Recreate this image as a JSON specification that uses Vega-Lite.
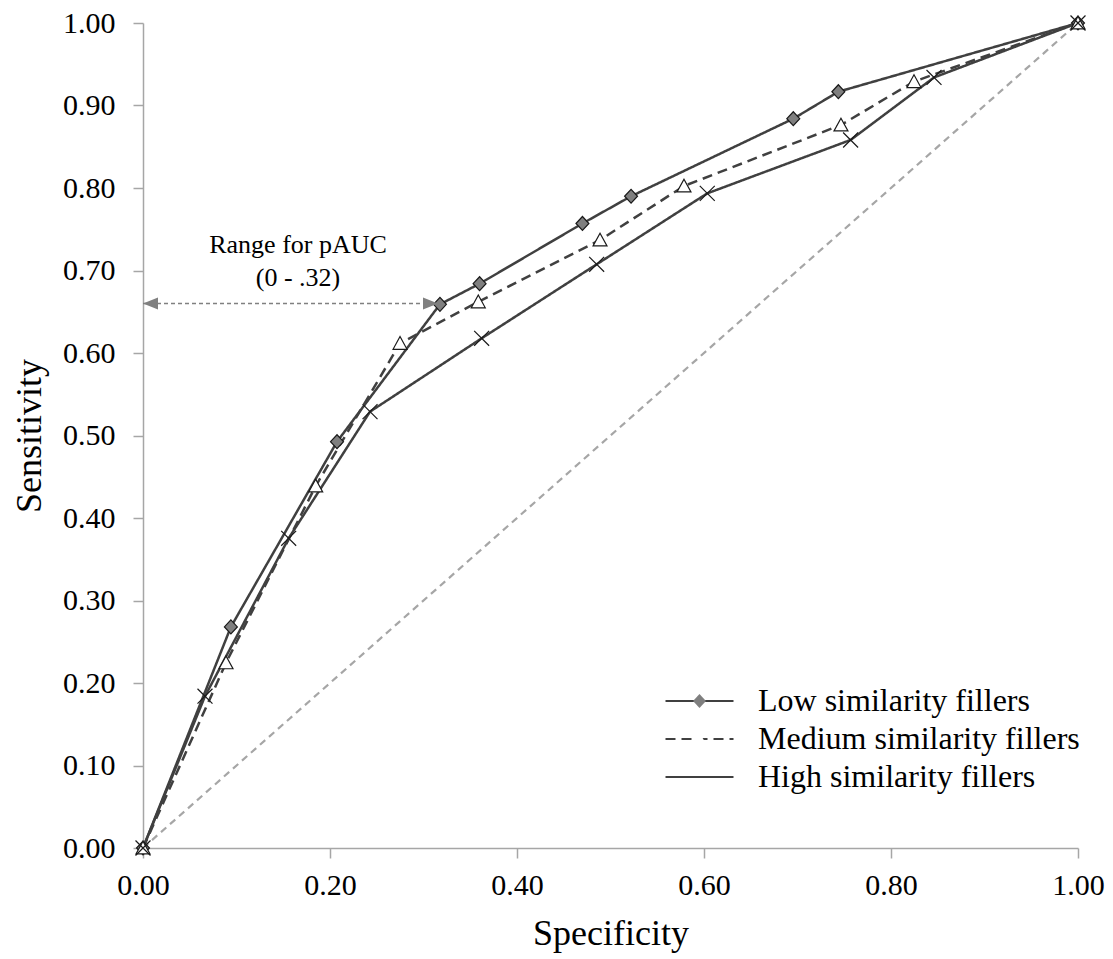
{
  "$schema": "https://vega.github.io/schema/vega-lite/v6.json",
  "width": 935,
  "height": 825,
  "autosize": {"type": "none"},
  "padding": {"left": 143, "top": 23, "right": 35, "bottom": 111},
  "background": "white",
  "config": {
    "view": {"stroke": null},
    "font": "Liberation Serif",
    "axis": {
      "grid": false,
      "domainColor": "#a6a6a6",
      "tickColor": "#a6a6a6",
      "domainWidth": 1.5,
      "tickWidth": 1.5,
      "tickSize": 10,
      "labelFlush": false,
      "labelFont": "Liberation Serif",
      "labelFontSize": 30,
      "labelColor": "black",
      "titleFont": "Liberation Serif",
      "titleFontSize": 36,
      "titleFontWeight": "normal",
      "titleColor": "black"
    },
    "legend": {
      "orient": "none",
      "legendX": 522.5,
      "legendY": 660,
      "padding": 0,
      "symbolSize": 1156,
      "symbolOffset": 16,
      "labelFont": "Liberation Serif",
      "labelFontSize": 32,
      "labelColor": "black",
      "labelLimit": 600,
      "rowPadding": 4
    }
  },
  "datasets": {
    "roc": [
      {"series": "Low similarity fillers", "specificity": 0.0, "sensitivity": 0.0},
      {"series": "Low similarity fillers", "specificity": 0.094, "sensitivity": 0.268},
      {"series": "Low similarity fillers", "specificity": 0.2075, "sensitivity": 0.4925},
      {"series": "Low similarity fillers", "specificity": 0.3176, "sensitivity": 0.659},
      {"series": "Low similarity fillers", "specificity": 0.360, "sensitivity": 0.684},
      {"series": "Low similarity fillers", "specificity": 0.470, "sensitivity": 0.757},
      {"series": "Low similarity fillers", "specificity": 0.522, "sensitivity": 0.790},
      {"series": "Low similarity fillers", "specificity": 0.6955, "sensitivity": 0.884},
      {"series": "Low similarity fillers", "specificity": 0.7437, "sensitivity": 0.9167},
      {"series": "Low similarity fillers", "specificity": 1.0, "sensitivity": 1.0},
      {"series": "Medium similarity fillers", "specificity": 0.0, "sensitivity": 0.0},
      {"series": "Medium similarity fillers", "specificity": 0.0888, "sensitivity": 0.2245},
      {"series": "Medium similarity fillers", "specificity": 0.1847, "sensitivity": 0.4388},
      {"series": "Medium similarity fillers", "specificity": 0.2749, "sensitivity": 0.6117},
      {"series": "Medium similarity fillers", "specificity": 0.3586, "sensitivity": 0.662},
      {"series": "Medium similarity fillers", "specificity": 0.4888, "sensitivity": 0.737},
      {"series": "Medium similarity fillers", "specificity": 0.5786, "sensitivity": 0.8024},
      {"series": "Medium similarity fillers", "specificity": 0.7465, "sensitivity": 0.8764},
      {"series": "Medium similarity fillers", "specificity": 0.8246, "sensitivity": 0.929},
      {"series": "Medium similarity fillers", "specificity": 1.0, "sensitivity": 1.0},
      {"series": "High similarity fillers", "specificity": 0.0, "sensitivity": 0.0},
      {"series": "High similarity fillers", "specificity": 0.0663, "sensitivity": 0.184},
      {"series": "High similarity fillers", "specificity": 0.1558, "sensitivity": 0.3754},
      {"series": "High similarity fillers", "specificity": 0.2428, "sensitivity": 0.5289},
      {"series": "High similarity fillers", "specificity": 0.3622, "sensitivity": 0.6178},
      {"series": "High similarity fillers", "specificity": 0.4852, "sensitivity": 0.7075},
      {"series": "High similarity fillers", "specificity": 0.6035, "sensitivity": 0.7935},
      {"series": "High similarity fillers", "specificity": 0.7568, "sensitivity": 0.8582},
      {"series": "High similarity fillers", "specificity": 0.846, "sensitivity": 0.934},
      {"series": "High similarity fillers", "specificity": 1.0, "sensitivity": 1.0}
    ],
    "diagonal": [
      {"specificity": 0.0, "sensitivity": 0.0},
      {"specificity": 1.0, "sensitivity": 1.0}
    ],
    "range": [
      {"start": 0.0, "end": 0.3155, "sensitivity": 0.66}
    ],
    "leftHead": [{"specificity": 0.008, "sensitivity": 0.66}],
    "rightHead": [{"specificity": 0.3075, "sensitivity": 0.66}],
    "note": [
      {"specificity": 0.1658, "sensitivity": 0.721, "label": "Range for pAUC"},
      {"specificity": 0.1658, "sensitivity": 0.681, "label": "(0 - .32)"}
    ]
  },
  "layer": [
    {
      "data": {"name": "diagonal"},
      "mark": {"type": "line", "color": "#a6a6a6", "strokeWidth": 2.2, "strokeDash": [7, 5]},
      "encoding": {
        "x": {
          "field": "specificity", "type": "quantitative",
          "scale": {"domain": [0, 1], "nice": false, "zero": false},
          "axis": {"values": [0, 0.2, 0.4, 0.6, 0.8, 1], "format": ".2f", "title": "Specificity", "labelPadding": 12, "titlePadding": 16}
        },
        "y": {
          "field": "sensitivity", "type": "quantitative",
          "scale": {"domain": [0, 1], "nice": false, "zero": false},
          "axis": {"values": [0, 0.1, 0.2, 0.3, 0.4, 0.5, 0.6, 0.7, 0.8, 0.9, 1], "format": ".2f", "title": "Sensitivity", "labelPadding": 18, "titlePadding": 14}
        }
      }
    },
    {
      "data": {"name": "roc"},
      "mark": {"type": "line", "color": "#404040", "strokeWidth": 2.5},
      "encoding": {
        "x": {"field": "specificity", "type": "quantitative"},
        "y": {"field": "sensitivity", "type": "quantitative"},
        "strokeDash": {
          "field": "series", "type": "nominal",
          "sort": ["Low similarity fillers", "Medium similarity fillers", "High similarity fillers"],
          "scale": {"range": [[1, 0], [10, 6], [1, 0]]},
          "legend": {
            "title": null,
            "symbolType": "M-2,0H2",
            "symbolStrokeColor": "#404040",
            "symbolStrokeWidth": 2,
            "labelOffset": 40.5
          }
        }
      }
    },
    {
      "data": {"name": "roc"},
      "mark": {"type": "point", "filled": true, "size": 1156, "stroke": "#1a1a1a", "strokeWidth": 1.2, "opacity": 1},
      "encoding": {
        "x": {"field": "specificity", "type": "quantitative"},
        "y": {"field": "sensitivity", "type": "quantitative"},
        "fill": {
          "field": "series", "type": "nominal",
          "scale": {"domain": ["Low similarity fillers", "Medium similarity fillers", "High similarity fillers"], "range": ["#7f7f7f", "#ffffff", "transparent"]},
          "legend": {
            "title": null,
            "symbolStrokeColor": "#1a1a1a",
            "symbolStrokeWidth": 1.2,
            "labelOffset": -36,
            "labelOpacity": 0
          }
        },
        "shape": {
          "field": "series", "type": "nominal",
          "scale": {"domain": ["Low similarity fillers", "Medium similarity fillers", "High similarity fillers"], "range": ["M-0.38,0L0,-0.41L0.38,0L0,0.41Z", "M0,-0.4L0.41,0.35L-0.41,0.35Z", "M-0.44,-0.44L0.44,0.44M-0.44,0.44L0.44,-0.44"]},
          "legend": {
            "title": null,
            "symbolStrokeColor": "#1a1a1a",
            "symbolStrokeWidth": 1.2,
            "labelOffset": -36,
            "labelOpacity": 0
          }
        }
      }
    },
    {
      "data": {"name": "range"},
      "mark": {"type": "rule", "color": "#808080", "strokeWidth": 1.5, "strokeDash": [4, 3]},
      "encoding": {
        "x": {"field": "start", "type": "quantitative"},
        "x2": {"field": "end"},
        "y": {"field": "sensitivity", "type": "quantitative"}
      }
    },
    {
      "data": {"name": "leftHead"},
      "mark": {"type": "point", "filled": true, "shape": "M-1,0L1,-0.8L1,0.8Z", "size": 225, "color": "#808080", "opacity": 1},
      "encoding": {
        "x": {"field": "specificity", "type": "quantitative"},
        "y": {"field": "sensitivity", "type": "quantitative"}
      }
    },
    {
      "data": {"name": "rightHead"},
      "mark": {"type": "point", "filled": true, "shape": "M1,0L-1,-0.8L-1,0.8Z", "size": 225, "color": "#808080", "opacity": 1},
      "encoding": {
        "x": {"field": "specificity", "type": "quantitative"},
        "y": {"field": "sensitivity", "type": "quantitative"}
      }
    },
    {
      "data": {"name": "note"},
      "mark": {"type": "text", "font": "Liberation Serif", "fontSize": 26, "color": "black", "align": "center", "baseline": "alphabetic"},
      "encoding": {
        "x": {"field": "specificity", "type": "quantitative"},
        "y": {"field": "sensitivity", "type": "quantitative"},
        "text": {"field": "label"}
      }
    }
  ]
}
